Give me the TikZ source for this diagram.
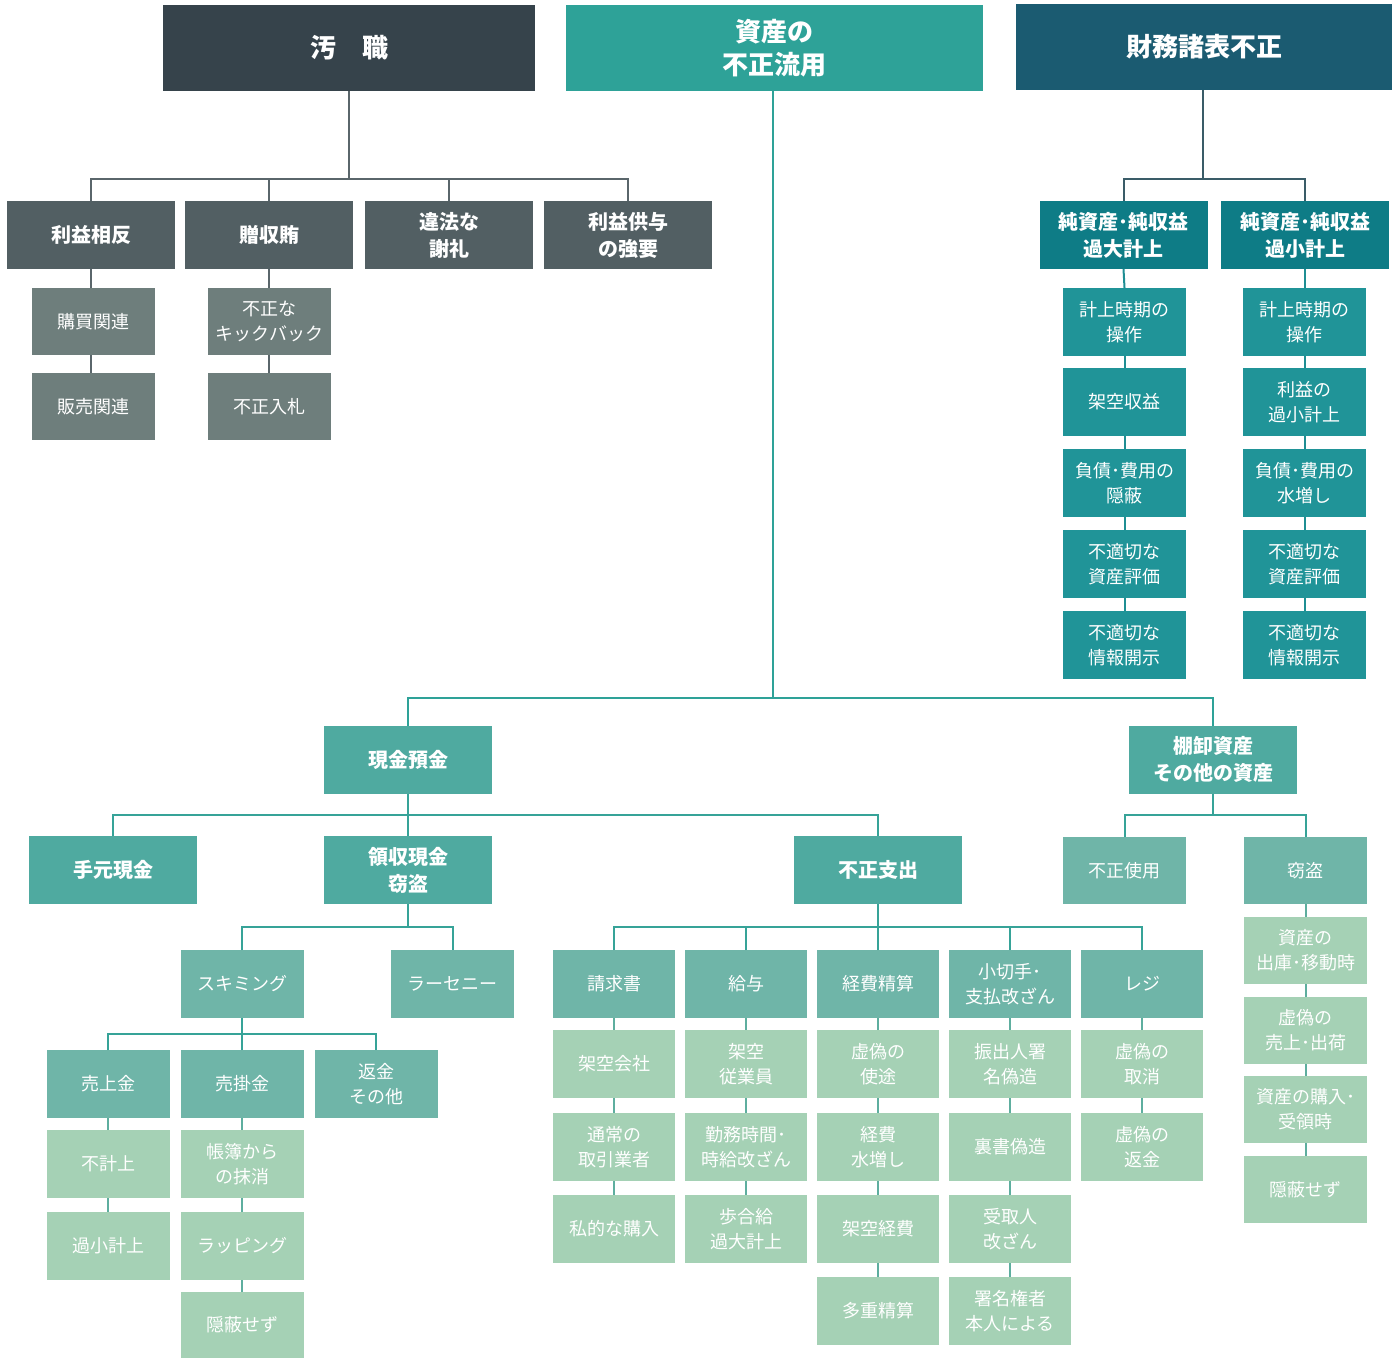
\documentclass[tikz,border=0pt]{standalone}
\usepackage{fontspec}
\newfontfamily\jp{Noto Sans CJK JP}
\definecolor{cDark}{HTML}{36434B}
\definecolor{cGrey1}{HTML}{525F63}
\definecolor{cGrey2}{HTML}{6E7E7C}
\definecolor{cGreyLn}{HTML}{5A666B}
\definecolor{cTeal0}{HTML}{2EA298}
\definecolor{cNavy}{HTML}{1B5B71}
\definecolor{cNavyLn}{HTML}{3A5C68}
\definecolor{cSea1}{HTML}{0E7C86}
\definecolor{cSea2}{HTML}{209498}
\definecolor{cSeaLn}{HTML}{1F8E93}
\definecolor{cG1}{HTML}{4FAAA0}
\definecolor{cG2}{HTML}{6FB5A8}
\definecolor{cG3}{HTML}{A5D1B5}
\definecolor{cGLn}{HTML}{36A398}
\definecolor{cGLn2}{HTML}{5EAE9F}
\tikzset{
  bx/.style={inner sep=0pt, outer sep=0pt, text=white, align=center},
  L1/.style={bx, font=\jp\bfseries\fontsize{26}{33}\selectfont, minimum height=86},
  L2/.style={bx, font=\jp\bfseries\fontsize{20}{27}\selectfont, minimum width=168, minimum height=68},
  L3/.style={bx, font=\jp\fontsize{18}{25}\selectfont, minimum width=123, minimum height=68},
  ln/.style={line width=2pt, line join=miter},
}
\begin{document}
\begin{tikzpicture}[x=1pt,y=-1pt]
\useasboundingbox (0,0) rectangle (1397,1357);

% ---------- top level
\node[L1, fill=cDark, minimum width=372] (osyoku) at (349,48) {汚　職};
\node[L1, fill=cTeal0, minimum width=417] (shisan) at (774,48) {資産の\\不正流用};
\node[L1, fill=cNavy, minimum width=376] (zaimu) at (1204,47) {財務諸表不正};

% ---------- 汚職
\node[L2, fill=cGrey1] (rieki) at (91,235) {利益相反};
\node[L2, fill=cGrey1] (zouwai) at (269,235) {贈収賄};
\node[L2, fill=cGrey1] (ihou) at (449,235) {違法な\\謝礼};
\node[L2, fill=cGrey1] (kyouyo) at (628,235) {利益供与\\の強要};
\node[L3, fill=cGrey2, minimum height=67] (kobai) at (93.5,321.5) {購買関連};
\node[L3, fill=cGrey2, minimum height=67] (hanbai) at (93.5,406.5) {販売関連};
\node[L3, fill=cGrey2, minimum height=67] (kick) at (269.5,321.5) {不正な\\キックバック};
\node[L3, fill=cGrey2, minimum height=67] (nyusatsu) at (269.5,406.5) {不正入札};

\coordinate (b1) at (0,179);
\draw[ln, cGreyLn] (osyoku.south) -- (osyoku.south |- b1);
\draw[ln, cGreyLn] (rieki.north) -- (rieki.north |- b1) -- (kyouyo.north |- b1) -- (kyouyo.north);
\draw[ln, cGreyLn] (zouwai.north) -- (zouwai.north |- b1);
\draw[ln, cGreyLn] (ihou.north) -- (ihou.north |- b1);
\draw[ln, cGreyLn] (rieki.south) -- (rieki.south |- kobai.north);
\draw[ln, cGreyLn] (kobai.south -| rieki.south) -- (rieki.south |- hanbai.north);
\draw[ln, cGreyLn] (zouwai.south) -- (zouwai.south |- kick.north);
\draw[ln, cGreyLn] (kick.south -| zouwai.south) -- (zouwai.south |- nyusatsu.north);

% ---------- 財務諸表不正
\node[L2, fill=cSea1] (kadai) at (1123.5,235) {純資産･純収益\\過大計上};
\node[L2, fill=cSea1] (kasho) at (1305,235) {純資産･純収益\\過小計上};
\node[L3, fill=cSea2] (ka1) at (1124.5,322) {計上時期の\\操作};
\node[L3, fill=cSea2] (ka2) at (1124.5,402) {架空収益};
\node[L3, fill=cSea2] (ka3) at (1124.5,483) {負債･費用の\\隠蔽};
\node[L3, fill=cSea2] (ka4) at (1124.5,564) {不適切な\\資産評価};
\node[L3, fill=cSea2] (ka5) at (1124.5,645) {不適切な\\情報開示};
\node[L3, fill=cSea2] (ks1) at (1304.5,322) {計上時期の\\操作};
\node[L3, fill=cSea2] (ks2) at (1304.5,402) {利益の\\過小計上};
\node[L3, fill=cSea2] (ks3) at (1304.5,483) {負債･費用の\\水増し};
\node[L3, fill=cSea2] (ks4) at (1304.5,564) {不適切な\\資産評価};
\node[L3, fill=cSea2] (ks5) at (1304.5,645) {不適切な\\情報開示};

\coordinate (b2) at (0,179);
\draw[ln, cNavyLn] (zaimu.south -| 1203,0) -- (1203,179);
\draw[ln, cNavyLn] (kadai.north) -- (kadai.north |- b2) -- (kasho.north |- b2) -- (kasho.north);
\draw[ln, cSeaLn] (kadai.south) -- (ka1.north);
\draw[ln, cSeaLn] (ka1.south) -- (ka2.north);
\draw[ln, cSeaLn] (ka2.south) -- (ka3.north);
\draw[ln, cSeaLn] (ka3.south) -- (ka4.north);
\draw[ln, cSeaLn] (ka4.south) -- (ka5.north);
\draw[ln, cSeaLn] (kasho.south) -- (kasho.south |- ks1.north);
\draw[ln, cSeaLn] (ks1.south) -- (ks2.north);
\draw[ln, cSeaLn] (ks2.south) -- (ks3.north);
\draw[ln, cSeaLn] (ks3.south) -- (ks4.north);
\draw[ln, cSeaLn] (ks4.south) -- (ks5.north);

% ---------- 資産の不正流用
\node[L2, fill=cG1] (genkin) at (408,759.5) {現金預金};
\node[L2, fill=cG1] (tana) at (1213,759.5) {棚卸資産\\その他の資産};
\node[L2, fill=cG1] (temoto) at (113,870) {手元現金};
\node[L2, fill=cG1] (ryoshu) at (408,870) {領収現金\\窃盗};
\node[L2, fill=cG1] (fusei) at (878,870) {不正支出};
\node[L3, fill=cG2, minimum height=67] (fshiyo) at (1124.5,870.5) {不正使用};
\node[L3, fill=cG2, minimum height=67] (settou) at (1305.5,870.5) {窃盗};
\node[L3, fill=cG3, minimum height=67] (st1) at (1305.5,950.5) {資産の\\出庫･移動時};
\node[L3, fill=cG3, minimum height=67] (st2) at (1305.5,1030.5) {虚偽の\\売上･出荷};
\node[L3, fill=cG3, minimum height=67] (st3) at (1305.5,1109.5) {資産の購入･\\受領時};
\node[L3, fill=cG3, minimum height=67] (st4) at (1305.5,1189.5) {隠蔽せず};

\coordinate (b3) at (0,698);
\coordinate (b4) at (0,815);
\draw[ln, cTeal0] (shisan.south -| 773,0) -- (773,698);
\draw[ln, cTeal0] (genkin.north) -- (genkin.north |- b3) -- (tana.north |- b3) -- (tana.north);
\draw[ln, cGLn] (genkin.south) -- (ryoshu.north);
\draw[ln, cGLn] (temoto.north) -- (temoto.north |- b4) -- (fusei.north |- b4) -- (fusei.north);
\draw[ln, cGLn] (tana.south) -- (tana.south |- b4);
\draw[ln, cGLn] (fshiyo.north) -- (fshiyo.north |- b4) -- (settou.north |- b4) -- (settou.north);
\draw[ln, cGLn2] (settou.south) -- (st1.north);
\draw[ln, cGLn2] (st1.south) -- (st2.north);
\draw[ln, cGLn2] (st2.south) -- (st3.north);
\draw[ln, cGLn2] (st3.south) -- (st4.north);

% ---------- 領収現金窃盗
\node[L3, fill=cG2] (skim) at (242,984) {スキミング};
\node[L3, fill=cG2] (larc) at (452.5,984) {ラーセニー};
\node[L3, fill=cG2] (uriage) at (108,1084) {売上金};
\node[L3, fill=cG2] (urikake) at (242,1084) {売掛金};
\node[L3, fill=cG2] (henkin) at (376,1084) {返金\\その他};
\node[L3, fill=cG3] (ua1) at (108,1164) {不計上};
\node[L3, fill=cG3] (ua2) at (108,1246) {過小計上};
\node[L3, fill=cG3] (uk1) at (242,1164) {帳簿から\\の抹消};
\node[L3, fill=cG3] (uk2) at (242,1246) {ラッピング};
\node[L3, fill=cG3, minimum height=66] (uk3) at (242,1325) {隠蔽せず};

\coordinate (b5) at (0,927);
\coordinate (b6) at (0,1034);
\draw[ln, cGLn] (ryoshu.south) -- (ryoshu.south |- b5);
\draw[ln, cGLn] (skim.north) -- (skim.north |- b5) -- (larc.north |- b5) -- (larc.north);
\draw[ln, cGLn] (skim.south) -- (skim.south |- b6);
\draw[ln, cGLn] (uriage.north) -- (uriage.north |- b6) -- (henkin.north |- b6) -- (henkin.north);
\draw[ln, cGLn] (urikake.north) -- (urikake.north |- b6);
\draw[ln, cGLn2] (uriage.south) -- (ua1.north);
\draw[ln, cGLn2] (ua1.south) -- (ua2.north);
\draw[ln, cGLn2] (urikake.south) -- (uk1.north);
\draw[ln, cGLn2] (uk1.south) -- (uk2.north);
\draw[ln, cGLn2] (uk2.south) -- (uk3.north);

% ---------- 不正支出
\node[L3, fill=cG2, minimum width=122] (seikyu) at (614,984) {請求書};
\node[L3, fill=cG2, minimum width=122] (kyuyo) at (746,984) {給与};
\node[L3, fill=cG2, minimum width=122] (keihi) at (878,984) {経費精算};
\node[L3, fill=cG2, minimum width=122] (kogitte) at (1010,984) {小切手･\\支払改ざん};
\node[L3, fill=cG2, minimum width=122] (reji) at (1142,984) {レジ};

\node[L3, fill=cG3, minimum width=122] (sk1) at (614,1064) {架空会社};
\node[L3, fill=cG3, minimum width=122] (sk2) at (614,1147) {通常の\\取引業者};
\node[L3, fill=cG3, minimum width=122] (sk3) at (614,1229) {私的な購入};

\node[L3, fill=cG3, minimum width=122] (ky1) at (746,1064) {架空\\従業員};
\node[L3, fill=cG3, minimum width=122] (ky2) at (746,1147) {勤務時間･\\時給改ざん};
\node[L3, fill=cG3, minimum width=122] (ky3) at (746,1229) {歩合給\\過大計上};

\node[L3, fill=cG3, minimum width=122] (kh1) at (878,1064) {虚偽の\\使途};
\node[L3, fill=cG3, minimum width=122] (kh2) at (878,1147) {経費\\水増し};
\node[L3, fill=cG3, minimum width=122] (kh3) at (878,1229) {架空経費};
\node[L3, fill=cG3, minimum width=122] (kh4) at (878,1311) {多重精算};

\node[L3, fill=cG3, minimum width=122] (kg1) at (1010,1064) {振出人署\\名偽造};
\node[L3, fill=cG3, minimum width=122] (kg2) at (1010,1147) {裏書偽造};
\node[L3, fill=cG3, minimum width=122] (kg3) at (1010,1229) {受取人\\改ざん};
\node[L3, fill=cG3, minimum width=122] (kg4) at (1010,1311) {署名権者\\本人による};

\node[L3, fill=cG3, minimum width=122] (rj1) at (1142,1064) {虚偽の\\取消};
\node[L3, fill=cG3, minimum width=122] (rj2) at (1142,1147) {虚偽の\\返金};

\draw[ln, cGLn] (fusei.south) -- (fusei.south |- b5);
\draw[ln, cGLn] (seikyu.north) -- (seikyu.north |- b5) -- (reji.north |- b5) -- (reji.north);
\draw[ln, cGLn] (kyuyo.north) -- (kyuyo.north |- b5);
\draw[ln, cGLn] (keihi.north) -- (keihi.north |- b5);
\draw[ln, cGLn] (kogitte.north) -- (kogitte.north |- b5);

\draw[ln, cGLn2] (seikyu.south) -- (sk1.north);
\draw[ln, cGLn2] (sk1.south) -- (sk2.north);
\draw[ln, cGLn2] (sk2.south) -- (sk3.north);
\draw[ln, cGLn2] (kyuyo.south) -- (ky1.north);
\draw[ln, cGLn2] (ky1.south) -- (ky2.north);
\draw[ln, cGLn2] (ky2.south) -- (ky3.north);
\draw[ln, cGLn2] (keihi.south) -- (kh1.north);
\draw[ln, cGLn2] (kh1.south) -- (kh2.north);
\draw[ln, cGLn2] (kh2.south) -- (kh3.north);
\draw[ln, cGLn2] (kh3.south) -- (kh4.north);
\draw[ln, cGLn2] (kogitte.south) -- (kg1.north);
\draw[ln, cGLn2] (kg1.south) -- (kg2.north);
\draw[ln, cGLn2] (kg2.south) -- (kg3.north);
\draw[ln, cGLn2] (kg3.south) -- (kg4.north);
\draw[ln, cGLn2] (reji.south) -- (rj1.north);
\draw[ln, cGLn2] (rj1.south) -- (rj2.north);
\end{tikzpicture}
\end{document}
